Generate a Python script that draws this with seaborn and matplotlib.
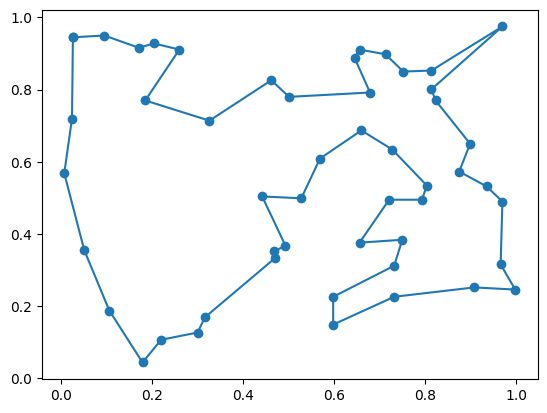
import matplotlib
matplotlib.use("Agg")
import matplotlib.pyplot as plt
import pandas as pd
import seaborn as sns

# Tour visiting order (closed loop: first city is repeated at the end)
x = [0.026, 0.095, 0.171, 0.204, 0.260, 0.185, 0.326, 0.462, 0.501, 0.679,
     0.645, 0.656, 0.713, 0.752, 0.814, 0.970, 0.814, 0.823, 0.899, 0.875,
     0.935, 0.970, 0.966, 0.998, 0.908, 0.732, 0.598, 0.598, 0.732, 0.750,
     0.656, 0.721, 0.793, 0.804, 0.728, 0.660, 0.569, 0.528, 0.442, 0.493,
     0.469, 0.471, 0.316, 0.300, 0.220, 0.179, 0.106, 0.051, 0.007, 0.024]
y = [0.945, 0.950, 0.916, 0.928, 0.911, 0.770, 0.714, 0.826, 0.780, 0.792,
     0.888, 0.911, 0.898, 0.850, 0.853, 0.975, 0.801, 0.770, 0.650, 0.573,
     0.532, 0.490, 0.316, 0.246, 0.252, 0.226, 0.149, 0.226, 0.312, 0.384,
     0.376, 0.495, 0.495, 0.534, 0.634, 0.687, 0.609, 0.499, 0.504, 0.368,
     0.352, 0.334, 0.169, 0.127, 0.107, 0.044, 0.188, 0.355, 0.568, 0.720]

df = pd.DataFrame({"x": x + x[:1], "y": y + y[:1]})

fig, ax = plt.subplots(figsize=(6.4, 4.8), dpi=100)
sns.lineplot(data=df, x="x", y="y", sort=False, estimator=None, ax=ax,
             color="C0", marker="o", markersize=6,
             markeredgecolor="C0", markeredgewidth=1)
ax.set_xlabel("")
ax.set_ylabel("")

plt.savefig("out.png", dpi=100, bbox_inches="tight")
plt.close()
